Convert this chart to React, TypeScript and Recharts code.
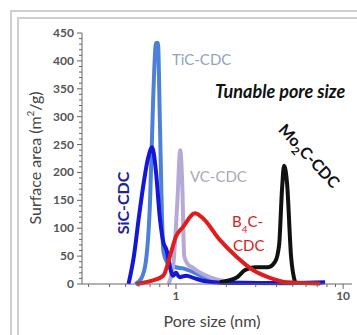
import { LineChart, Line, XAxis, YAxis } from 'recharts';

// pore size (nm) / surface area (m2/g)
const sicX = [0.52, 0.56, 0.6, 0.64, 0.68, 0.72, 0.76, 0.8, 0.84, 0.88, 0.92, 0.96, 1.0, 1.05, 1.15, 1.3, 1.5, 1.7, 2.0, 3.0, 5.0, 7.8];
const sicY = [0, 50, 120, 180, 225, 245, 200, 120, 75, 60, 30, 15, 20, 12, 15, 10, 5, 3, 2, 2, 2, 3];

const ticX = [0.57, 0.62, 0.66, 0.7, 0.73, 0.76, 0.78, 0.8, 0.82, 0.84, 0.88, 0.92, 1.0, 1.1, 1.25, 1.4, 1.6, 2.0, 3.0, 5.0, 7.5];
const ticY = [0, 10, 40, 150, 330, 432, 432, 300, 150, 60, 40, 35, 30, 28, 22, 15, 8, 3, 2, 2, 2];

const vcX = [0.9, 0.96, 1.02, 1.06, 1.09, 1.12, 1.18, 1.25, 1.4, 1.6, 2.0, 3.0, 5.0];
const vcY = [0, 30, 150, 240, 180, 50, 35, 30, 20, 12, 5, 2, 1];

const b4cX = [0.58, 0.7, 0.84, 0.92, 1.0, 1.1, 1.3, 1.45, 1.83, 2.32, 2.89, 3.65, 4.62, 7.3];
const b4cY = [0, 5, 15, 50, 85, 102, 127, 118, 79, 48, 25, 11, 3, 1];

const mo2cX = [1.83, 2.32, 2.59, 2.97, 3.55, 3.92, 4.14, 4.31, 4.43, 4.62, 4.88, 5.16];
const mo2cY = [3, 12, 25, 30, 30, 40, 70, 170, 212, 180, 50, 3];

const xTicks = [0.3, 0.4, 0.5, 0.6, 0.7, 0.8, 0.9, 1, 2, 3, 4, 5, 6, 7, 8, 9, 10];
const xLabels = [1, 10];
const yTicks = Array.from({ length: 46 }, (_, i) => i * 10);
const yLabels = [0, 50, 100, 150, 200, 250, 300, 350, 400, 450];

const toRows = (xs: number[], ys: number[]) => xs.map((x, i) => ({ x, y: ys[i] }));

const font = 'Lato, "Open Sans", sans-serif';

function YTick(props: any) {
  const { x, y, payload } = props;
  const major = yLabels.includes(payload.value);
  return (
    <g>
      <line x1={x - (major ? 5 : 3)} x2={x} y1={y} y2={y} stroke="#666" strokeWidth={1} />
      {major && (
        <text x={x - 8} y={y + 4} textAnchor="end" fontSize={12} fontWeight={700} fill="#555" fontFamily={font}>
          {payload.value}
        </text>
      )}
    </g>
  );
}

function XTick(props: any) {
  const { x, y, payload } = props;
  const major = xLabels.includes(payload.value);
  return (
    <g>
      <line x1={x} x2={x} y1={y} y2={y + (major ? 5 : 3)} stroke="#666" strokeWidth={1} />
      {major && (
        <text x={x} y={y + 16} textAnchor="middle" fontSize={12} fontWeight={700} fill="#555" fontFamily={font}>
          {payload.value}
        </text>
      )}
    </g>
  );
}

export default function App() {
  return (
    <div style={{ position: 'absolute', left: 0, top: 0, width: 357, height: 335, background: '#fff', overflow: 'hidden', fontFamily: font }}>
      <svg width={357} height={335} style={{ position: 'absolute', left: 0, top: 0 }}>
        <path d="M11 335 V11 H357" fill="none" stroke="#cfcfcf" strokeWidth={2} />
        <path d="M18 335 V18 H357" fill="none" stroke="#cfcfcf" strokeWidth={2} />
      </svg>
      <div style={{ position: 'absolute', left: 0, top: 0 }}>
        <LineChart width={357} height={335} margin={{ top: 33, right: 5, bottom: 0, left: 0 }}>
          <XAxis
            dataKey="x"
            type="number"
            scale="log"
            domain={[0.274, 11.3]}
            allowDataOverflow
            ticks={xTicks}
            tick={<XTick />}
            tickSize={0}
            tickMargin={0}
            tickLine={false}
            axisLine={{ stroke: '#666' }}
            height={51}
            interval={0}
          />
          <YAxis
            type="number"
            domain={[0, 450]}
            ticks={yTicks}
            tick={<YTick />}
            tickSize={0}
            tickMargin={0}
            tickLine={false}
            axisLine={{ stroke: '#666' }}
            width={82}
            interval={0}
          />
          <Line data={toRows(ticX, ticY)} dataKey="y" type="monotone" stroke="#4d80d8" strokeWidth={4} dot={false} isAnimationActive={false} />
          <Line data={toRows(vcX, vcY)} dataKey="y" type="monotone" stroke="#b7a9d6" strokeWidth={4} dot={false} isAnimationActive={false} />
          <Line data={toRows(sicX, sicY)} dataKey="y" type="monotone" stroke="#1616d8" strokeWidth={4} dot={false} isAnimationActive={false} />
          <Line data={toRows(mo2cX, mo2cY)} dataKey="y" type="monotone" stroke="#111" strokeWidth={4} dot={false} isAnimationActive={false} />
          <Line data={toRows(b4cX, b4cY)} dataKey="y" type="monotone" stroke="#e01c1c" strokeWidth={4} dot={false} isAnimationActive={false} />
        </LineChart>
      </div>
      <svg width={357} height={335} style={{ position: 'absolute', left: 0, top: 0, pointerEvents: 'none' }} fontFamily={font}>
        <text x={37} y={158} transform="rotate(-90 37 158)" textAnchor="middle" dominantBaseline="middle" fontSize={16} fill="#444">
          Surface area (m<tspan baselineShift="super" fontSize={10}>2</tspan>/g)
        </text>
        <text x={212} y={327} textAnchor="middle" fontSize={16} fill="#444">Pore size (nm)</text>
        <text x={172} y={65} fontSize={15} fill="#8fa3c0">TiC-CDC</text>
        <text x={215} y={98} fontSize={18} fontWeight={700} fontStyle="italic" fill="#111">Tunable pore size</text>
        <text x={308} y={157} transform="rotate(47 308 157)" textAnchor="middle" dominantBaseline="middle" fontSize={16} fontWeight={700} fill="#111">
          Mo<tspan baselineShift="sub" fontSize={11}>2</tspan>C-CDC
        </text>
        <text x={125} y={203} transform="rotate(-90 125 203)" textAnchor="middle" dominantBaseline="middle" fontSize={16} fontWeight={700} fill="#22229a">SiC-CDC</text>
        <text x={190} y={182} fontSize={15} fill="#a9a9b9">VC-CDC</text>
        <text x={232} y={227} fontSize={15} fill="#d42222">
          B<tspan baselineShift="sub" fontSize={10}>4</tspan>C-
        </text>
        <text x={233} y={251} fontSize={15} fill="#d42222">CDC</text>
      </svg>
    </div>
  );
}
